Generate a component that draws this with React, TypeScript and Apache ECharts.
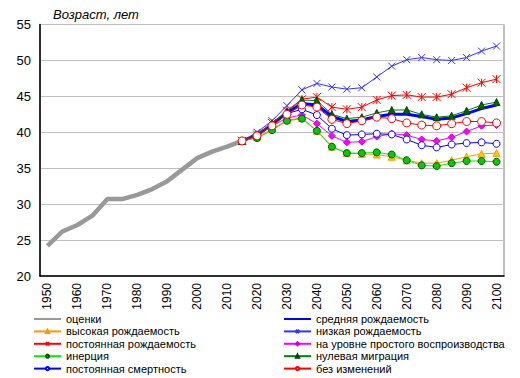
import React, { useEffect, useRef } from "react";
import * as echarts from "echarts";

const years = [
  "1950", "1955", "1960", "1965", "1970", "1975", "1980", "1985", "1990", "1995",
  "2000", "2005", "2010", "2015", "2020", "2025", "2030", "2035", "2040", "2045",
  "2050", "2055", "2060", "2065", "2070", "2075", "2080", "2085", "2090", "2095", "2100",
];
const yTicks = [20, 25, 30, 35, 40, 45, 50, 55];

const estimates = [24.2, 26.2, 27.1, 28.4, 30.7, 30.7, 31.3, 32.1, 33.2, 34.8, 36.4, 37.3, 38.0, 38.8];
const pad = [null, null, null, null, null, null, null, null, null, null, null, null, null];

const medium = [38.8, 39.6, 41.1, 42.7, 44.0, 43.8, 42.2, 41.5, 41.7, 42.2, 42.5, 42.5, 42.2, 41.8, 42.0, 42.6, 43.3, 43.8];
const high = [38.8, 39.3, 40.4, 41.7, 42.0, 40.2, 38.0, 37.1, 37.0, 36.9, 36.6, 36.1, 35.7, 35.7, 36.1, 36.6, 37.0, 37.1];
const low = [38.8, 40.0, 41.6, 43.7, 45.9, 46.8, 46.3, 46.0, 46.2, 47.7, 49.2, 50.1, 50.4, 50.1, 50.0, 50.4, 51.3, 52.0];
const constFert = [38.8, 39.7, 41.3, 43.0, 44.6, 44.9, 43.5, 43.2, 43.5, 44.5, 45.1, 45.2, 44.9, 44.9, 45.3, 46.2, 46.9, 47.4];
const replacement = [38.8, 39.5, 40.9, 42.0, 42.4, 41.2, 39.5, 38.6, 38.7, 39.4, 39.8, 39.6, 39.0, 38.8, 39.3, 40.1, 40.9, 41.0];
const inertia = [38.8, 39.2, 40.3, 41.6, 41.9, 40.2, 38.0, 37.1, 37.1, 37.2, 36.9, 36.1, 35.4, 35.3, 35.7, 36.0, 36.0, 35.9];
const zeroMig = [38.8, 39.6, 41.2, 42.9, 44.5, 44.4, 42.5, 41.9, 42.1, 42.7, 43.1, 43.1, 42.5, 42.1, 42.3, 43.0, 43.8, 44.2];
const constMort = [38.8, 39.6, 41.0, 42.6, 43.2, 42.4, 40.5, 39.6, 39.7, 39.8, 39.7, 39.0, 38.2, 37.9, 38.3, 38.5, 38.6, 38.4];
const noChange = [38.8, 39.5, 40.9, 42.5, 43.8, 43.5, 41.8, 41.2, 41.6, 42.1, 41.9, 41.3, 41.0, 40.9, 41.2, 41.5, 41.5, 41.3];

const names = {
  est: "оценки",
  medium: "средняя рождаемость",
  high: "высокая рождаемость",
  low: "низкая рождаемость",
  constFert: "постоянная рождаемость",
  repl: "на уровне простого воспроизводства",
  inertia: "инерция",
  zeroMig: "нулевая миграция",
  constMort: "постоянная смертность",
  noChange: "без изменений",
};

const FONT = "'Liberation Sans', Arial, sans-serif";
const X_PATH = "path://M0,0L10,10M10,0L0,10";
const STAR_PATH = "path://M5,0L5,10M0,0L10,10M10,0L0,10";

export default function App() {
  const ref = useRef<HTMLDivElement>(null);
  useEffect(() => {
    if (!ref.current) return;
    const chart = echarts.init(ref.current, null, { renderer: "svg" });
    const proj = (arr: number[]) => [...pad, ...arr];
    const line = (
      name: string,
      data: (number | null)[],
      color: string,
      width: number,
      symbol: string,
      size: number,
      fill: string,
      border: string,
      borderWidth = 1
    ) => ({
      name,
      type: "line",
      data,
      symbol,
      symbolSize: size,
      showSymbol: symbol !== "none",
      connectNulls: false,
      lineStyle: { color, width },
      itemStyle: { color: fill, borderColor: border, borderWidth },
      emphasis: { disabled: true },
    });
    const legendBase = {
      orient: "vertical",
      top: 313,
      height: 70,
      padding: 0,
      itemWidth: 27,
      itemHeight: 4,
      itemGap: 0.4,
      textStyle: { fontSize: 11, color: "#000", lineHeight: 12, fontFamily: FONT },
    };
    const noMark = { opacity: 0 };
    chart.setOption({
      animation: false,
      textStyle: { fontFamily: FONT },
      title: {
        text: "Возраст, лет",
        left: 53,
        top: 8,
        padding: 0,
        textStyle: { fontSize: 13, fontStyle: "italic", fontWeight: "normal", color: "#000", fontFamily: FONT },
      },
      grid: {
        left: 40,
        right: 16,
        top: 24.5,
        bottom: 102,
        show: true,
        borderColor: "#808080",
        borderWidth: 1,
        backgroundColor: "transparent",
      },
      xAxis: {
        type: "category",
        data: years,
        boundaryGap: true,
        axisLine: { lineStyle: { color: "#000", width: 1.5 } },
        axisTick: { show: false },
        axisLabel: { rotate: 90, interval: 1, fontSize: 12, color: "#000", margin: 7, fontFamily: FONT },
      },
      yAxis: {
        type: "value",
        min: yTicks[0],
        max: yTicks[yTicks.length - 1],
        interval: 5,
        axisLine: { show: true, lineStyle: { color: "#000", width: 1.5 } },
        axisTick: { show: false },
        axisLabel: { fontSize: 13, color: "#000", margin: 9, fontFamily: FONT },
        splitLine: { lineStyle: { color: "#bfbfbf", width: 1 } },
      },
      legend: [
        {
          ...legendBase,
          left: 33,
          data: [
            { name: names.est, itemStyle: noMark },
            names.high,
            names.constFert,
            names.inertia,
            names.constMort,
          ],
        },
        {
          ...legendBase,
          left: 283,
          data: [
            { name: names.medium, itemStyle: noMark },
            names.low,
            names.repl,
            names.zeroMig,
            names.noChange,
          ],
        },
      ],
      series: [
        line(names.est, [...estimates], "#999999", 4.5, "none", 0, "#999999", "#999999"),
        line(names.medium, proj(medium), "#0000ff", 3, "none", 0, "#0000ff", "#0000ff"),
        line(names.high, proj(high), "#ff9900", 1, "triangle", 7, "#ffcc00", "#ff9900"),
        line(names.low, proj(low), "#3333ff", 1, X_PATH, 7, "#3333ff", "#3333ff"),
        line(names.constFert, proj(constFert), "#ff0000", 1, STAR_PATH, 8, "#ff0000", "#ff0000"),
        line(names.repl, proj(replacement), "#ff00ff", 1, "diamond", 7, "#ff00ff", "#cc00cc"),
        line(names.inertia, proj(inertia), "#00ee00", 1, "circle", 7, "#00cc00", "#005500"),
        line(names.zeroMig, proj(zeroMig), "#008000", 1, "triangle", 7, "#006600", "#004400"),
        line(names.constMort, proj(constMort), "#0000ff", 1, "circle", 7, "#ffffff", "#0000ff"),
        line(names.noChange, proj(noChange), "#ff0000", 1, "circle", 8, "#ffffff", "#ff0000"),
      ],
    });
    return () => chart.dispose();
  }, []);
  return <div ref={ref} style={{ width: 520, height: 378, position: "absolute", left: 0, top: 0 }} />;
}
